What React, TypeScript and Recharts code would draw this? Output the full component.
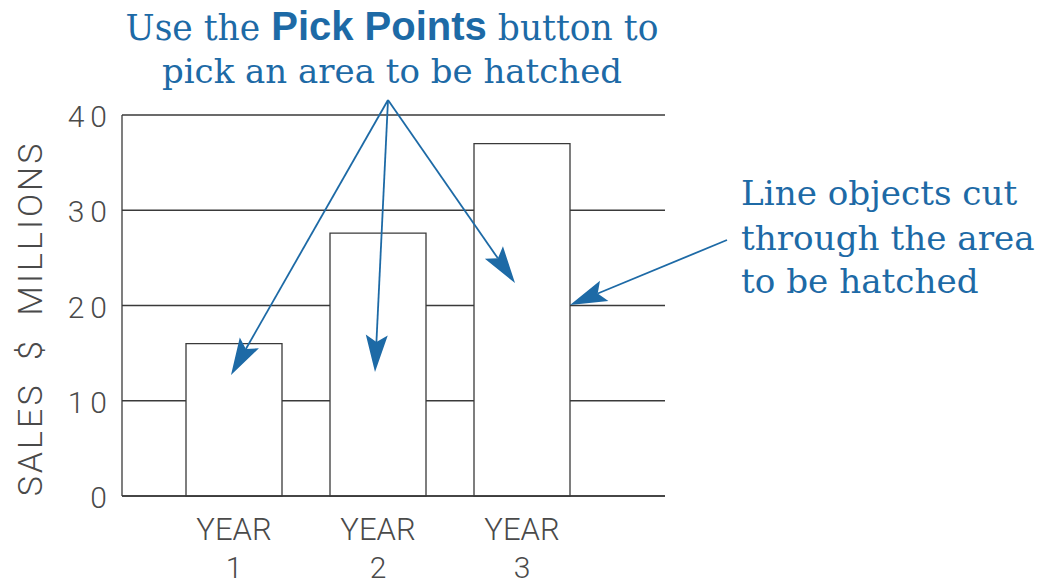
import React from 'react';
import { BarChart, Bar, XAxis, YAxis, CartesianGrid, Label } from 'recharts';

// values
const years = ['YEAR 1', 'YEAR 2', 'YEAR 3'];
const sales = [16, 27.6, 37];
const yTicks = [0, 10, 20, 30, 40];

const data = years.map((year, i) => ({ year, sales: sales[i] }));

const INK = '#3a3a3a';
const GREY_TEXT = '#4a4a4a';
const BLUE = '#1d6aa6';
const CAD_FONT = "Roboto, 'Open Sans', sans-serif";
const NOTE_FONT = "'DejaVu Serif', 'Liberation Serif', serif";

// callout arrows (page pixels): tail -> tip
const arrows: { from: [number, number]; to: [number, number] }[] = [
  { from: [388, 100], to: [231, 375] },
  { from: [388, 100], to: [375, 372] },
  { from: [388, 100], to: [515, 283] },
  { from: [727, 240], to: [570, 305] },
];

const Arrow = ({ from, to }: { from: [number, number]; to: [number, number] }) => {
  const [fx, fy] = from;
  const [tx, ty] = to;
  const len = Math.hypot(fx - tx, fy - ty);
  const ux = (fx - tx) / len;
  const uy = (fy - ty) / len;
  const px = -uy;
  const py = ux;
  const L = 37;
  const hw = 11;
  const notch = 7;
  const bx = tx + ux * L;
  const by = ty + uy * L;
  const nx = tx + ux * (L - notch);
  const ny = ty + uy * (L - notch);
  const pts = [
    [tx, ty],
    [bx + px * hw, by + py * hw],
    [nx, ny],
    [bx - px * hw, by - py * hw],
  ]
    .map((p) => p.join(','))
    .join(' ');
  return (
    <g>
      <line x1={fx} y1={fy} x2={nx} y2={ny} stroke={BLUE} strokeWidth={1.8} />
      <polygon points={pts} fill={BLUE} />
    </g>
  );
};

const YearTick = ({ x, y, payload }: any) => {
  const [word, num] = String(payload.value).split(' ');
  return (
    <g fontFamily={CAD_FONT} fontWeight={300} fill={GREY_TEXT} fontSize={31}>
      <text x={x} y={y + 36} textAnchor="middle">{word}</text>
      <text x={x} y={y + 74} textAnchor="middle" fontSize={30}>{num}</text>
    </g>
  );
};

const ValueTick = ({ x, y, payload }: any) => (
  <text
    x={x}
    y={y}
    dy="0.4em"
    textAnchor="end"
    fontFamily={CAD_FONT}
    fontWeight={300}
    fontSize={30}
    letterSpacing={6}
    fill={GREY_TEXT}
  >
    {payload.value}
  </text>
);

const renderYLabel = ({ viewBox }: any) => {
  const cx = viewBox.x + 30;
  const cy = viewBox.y + viewBox.height / 2 + 13;
  return (
    <text
      x={cx}
      y={cy}
      transform={`rotate(-90 ${cx} ${cy})`}
      textAnchor="middle"
      dominantBaseline="central"
      fontFamily={CAD_FONT}
      fontWeight={300}
      fontSize={34}
      letterSpacing={3}
      fill={GREY_TEXT}
    >
      {'SALES\u00A0\u00A0$\u00A0\u00A0MILLIONS'}
    </text>
  );
};

export default function App() {
  return (
    <div style={{ position: 'absolute', left: 0, top: 0, width: 1041, height: 585, background: '#fff' }}>
      <BarChart
        width={1041}
        height={585}
        data={data}
        margin={{ top: 115, right: 376, bottom: 0, left: 0 }}
      >
        <CartesianGrid vertical={false} stroke={INK} strokeWidth={1.3} />
        <XAxis
          dataKey="year"
          padding={{ left: 40, right: 71 }}
          axisLine={{ stroke: INK, strokeWidth: 1.3 }}
          tickLine={false}
          tick={<YearTick />}
          height={89}
          interval={0}
        />
        <YAxis
          width={122}
          domain={[0, 40]}
          ticks={yTicks}
          axisLine={{ stroke: INK, strokeWidth: 1.3 }}
          tickLine={false}
          tickMargin={3}
          tick={<ValueTick />}
        >
          <Label content={renderYLabel} />
        </YAxis>
        <Bar
          dataKey="sales"
          fill="#ffffff"
          stroke={INK}
          strokeWidth={1.3}
          barSize={96}
          isAnimationActive={false}
        />
      </BarChart>

      <svg
        width={1041}
        height={585}
        style={{ position: 'absolute', left: 0, top: 0, pointerEvents: 'none' }}
      >
        <g fill={BLUE} fontFamily={NOTE_FONT} fontSize={34.5}>
          <text x={392} y={40} textAnchor="middle">
            {'Use the '}
            <tspan fontFamily="'Liberation Sans', Arial, sans-serif" fontWeight="bold" fontSize={40}>
              Pick Points
            </tspan>
            {' button to'}
          </text>
          <text x={392} y={83} textAnchor="middle" fontSize={34}>pick an area to be hatched</text>
        </g>
        <g fill={BLUE} fontFamily={NOTE_FONT} fontSize={34.2}>
          <text x={741} y={205}>Line objects cut</text>
          <text x={741} y={250}>through the area</text>
          <text x={741} y={293}>to be hatched</text>
        </g>
        {arrows.map((a, i) => (
          <Arrow key={i} from={a.from} to={a.to} />
        ))}
      </svg>
    </div>
  );
}
